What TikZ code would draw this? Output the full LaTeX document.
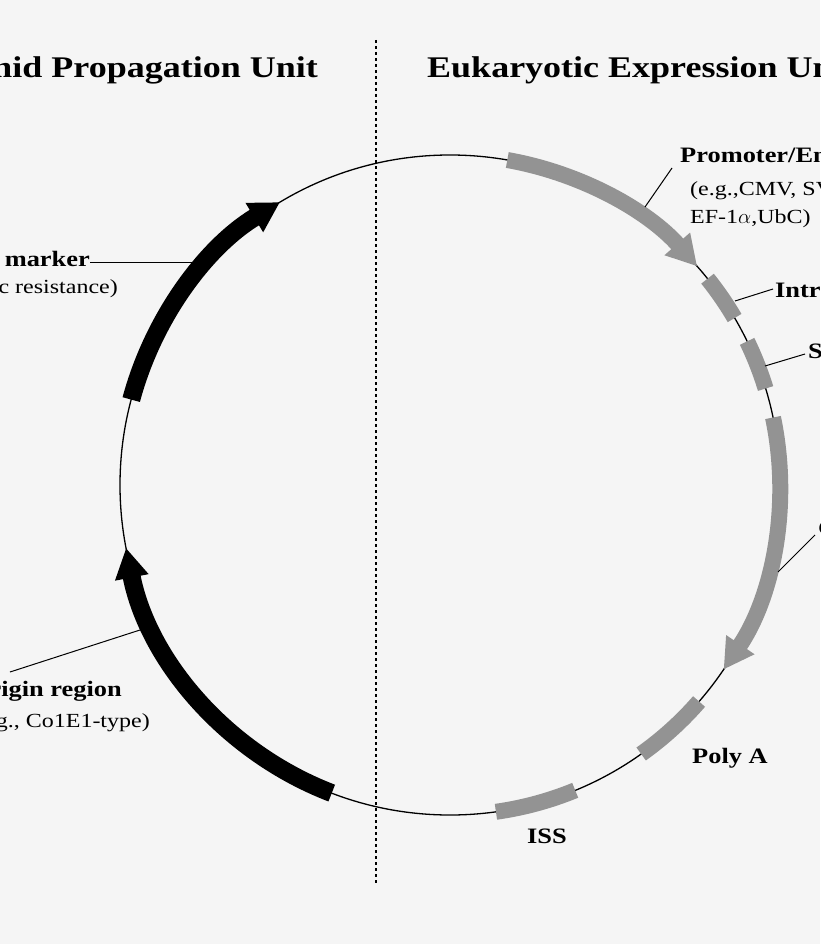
\documentclass[tikz,border=0pt]{standalone}
\usepackage{fontspec}
\setmainfont[FakeStretch=1.2]{Liberation Serif}
\usetikzlibrary{arrows.meta,calc,positioning}
\tikzset{%
	blk/.style   = {line width=18pt, black},
	gry/.style   = {line width=16pt, color=gray!85},
	head/.style  = {-{Triangle[length=30pt,width=32pt]}},
	lbl/.style   = {font=\fontsize{22}{24}\selectfont\bfseries, inner sep=0pt},
	sub/.style   = {font=\fontsize{20}{22}\selectfont, inner sep=0pt},
	title/.style = {font=\fontsize{30}{32}\selectfont\bfseries, inner sep=0pt},
	leader/.style= {line width=1pt},
}
\begin{document}
\begin{tikzpicture}[x=1pt,y=1pt]
	\fill[white!96!black] (0,0) rectangle (820,-944);
	\useasboundingbox (0,0) rectangle (820,-944);
	\clip (0,0) rectangle (820,-944);
	\coordinate (c) at (450,-485);
	\def\R{330}
	% plasmid backbone
	\draw[line width=1.3pt] (c) circle (\R);
	\draw[dashed, line width=1.2pt] (376,-40) -- (376,-885);
	% titles
	\node[title, anchor=base east] (tl) at (318,-78) {Plasmid Propagation Unit};
	\node[title, anchor=base west] (tr) at (427,-78) {Eukaryotic Expression Unit};
	% propagation unit
	\draw[blk, head] ($(c)+(165:\R)$) arc (165:121:\R);
	\draw[blk, head] ($(c)+(-111:\R)$) arc (-111:-169:\R);
	% expression unit
	\draw[gry, head] ($(c)+(80:\R)$) arc (80:41.5:\R);
	\draw[gry] ($(c)+(38.7:\R)$) arc (38.7:30.4:\R);
	\draw[gry] ($(c)+(25.8:\R)$) arc (25.8:17:\R);
	\draw[gry, head] ($(c)+(11.8:\R)$) arc (11.8:-34:\R);
	\draw[gry] ($(c)+(-41:\R)$) arc (-41:-54.6:\R);
	\draw[gry] ($(c)+(-67.7:\R)$) arc (-67.7:-82:\R);
	% labels
	\node[lbl, anchor=base east] (sel) at (90,-266) {Selection marker};
	\node[sub, anchor=base east] (selb) at (118,-293) {(e.g., antibiotic resistance)};
	\coordinate (selp) at (193,-262);
	\coordinate (sele) at (90,-262);
	\draw[leader] (sele) -- (selp);
	\node[lbl, anchor=base east] (ori) at (122,-696) {Replication origin region};
	\node[sub, anchor=base east] (orib) at (150,-727) {(e.g., Co1E1-type)};
	\coordinate (orip) at (140,-630);
	\coordinate (oril) at (10,-672);
	\draw[leader] (oril) -- (orip);
	\node[lbl, anchor=base west] (pro) at (680,-163) {Promoter/Enhancer};
	\node[sub, anchor=base west] (prob) at (690,-195) {(e.g.,CMV, SV40,};
	\node[sub, anchor=base west] (proc) at (690,-223) {EF-1$\alpha$,UbC)};
	\coordinate (prop) at (645,-207);
	\coordinate (prot) at (672,-168);
	\draw[leader] (prop) -- (prot);
	\node[lbl, anchor=base west] (int) at (775,-297) {Intron};
	\coordinate (intp) at (735,-301);
	\coordinate (intt) at (773,-289);
	\draw[leader] (intp) -- (intt);
	\node[lbl, anchor=base west] (sig) at (808,-358) {Signal};
	\coordinate (sigp) at (765,-366);
	\coordinate (sigt) at (805,-354);
	\draw[leader] (sigp) -- (sigt);
	\node[lbl, anchor=base west] (gen) at (818,-535) {Gene};
	\coordinate (genp) at (778,-572);
	\coordinate (gent) at (815,-535);
	\draw[leader] (genp) -- (gent);
	\node[lbl, anchor=base] (pa) at (730,-763) {Poly A};
	\node[lbl, anchor=base] (iss) at (547,-843) {ISS};
\end{tikzpicture}
\end{document}
